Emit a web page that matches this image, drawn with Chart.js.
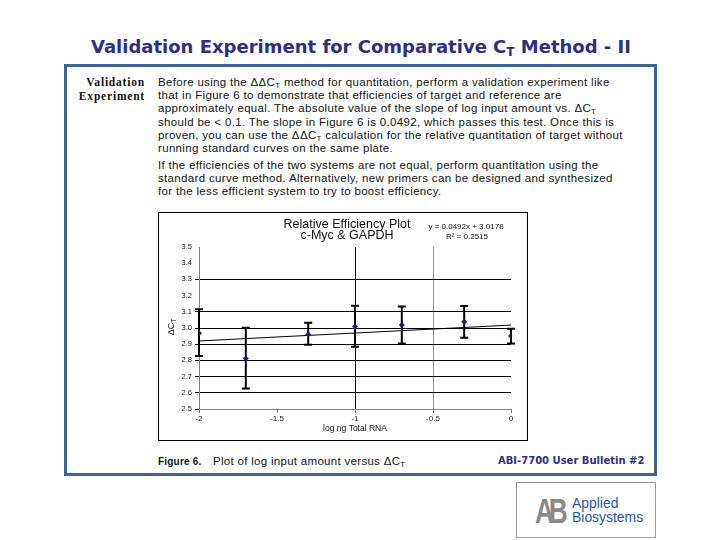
<!DOCTYPE html>
<html>
<head>
<meta charset="utf-8">
<script src="https://cdn.jsdelivr.net/npm/chart.js@4.4.1/dist/chart.umd.min.js"></script>
<style>
  html, body { margin: 0; padding: 0; background: #fff; }
  #page { position: relative; width: 720px; height: 540px; overflow: hidden; background: #fff; }
  .abs { position: absolute; white-space: nowrap; }
  #title { left: 0; width: 722px; top: 36px; text-align: center; font: bold 18px "DejaVu Sans"; color: #2e2f82; line-height: 22px; }
  #title sub { font-size: 12px; vertical-align: -3px; line-height: 0; }
  #frame { left: 64px; top: 64px; width: 587px; height: 406px; border: 3px solid #40648c; }
  #side { left: 55px; width: 90px; top: 75px; text-align: right; font: bold 11.5px "Liberation Serif"; line-height: 14px; color: #111; letter-spacing: 0.8px; }
  .body { left: 158px; font: 11.5px "Liberation Sans"; letter-spacing: 0.33px; line-height: 13.2px; color: #151515; }
  .body sub { font-size: 8px; vertical-align: -2px; line-height: 0; }
  #p1 { top: 76px; }
  #p2 { top: 159px; }
  #chartBox { left: 158px; top: 212px; width: 368px; height: 227px; border: 1px solid #000; }
  #cap { left: 158px; top: 454px; font: 11.5px "Liberation Sans"; letter-spacing: 0.3px; color: #151515; line-height: 14px; }
  #cap b { font-size: 10px; letter-spacing: 0.2px; margin-right: 8px; }
  #cap sub { font-size: 8px; vertical-align: -2px; line-height: 0; }
  #bulletin { left: 498px; top: 454px; font: bold 10px "DejaVu Sans"; color: #2e2f82; line-height: 14px; }
  #logo { left: 516px; top: 482px; width: 138px; height: 54px; border: 1px solid #9a9a9a; }
  #ab { left: 18px; top: 11px; font: bold 35px "Liberation Sans"; color: #8a8a8a; letter-spacing: -7px; line-height: 34px; transform: scaleX(0.75); transform-origin: left center; }
  .ablue { left: 55px; font: 14.5px "Liberation Sans"; color: #2458a8; transform: scaleX(0.96); transform-origin: left center; line-height: 16px; }
  #applied { top: 11.5px; }
  #bio { top: 25.5px; }
</style>
</head>
<body>
<div id="page">
  <div id="title" class="abs">Validation Experiment for Comparative C<sub>T</sub> Method - II</div>
  <div id="frame" class="abs"></div>
  <div id="side" class="abs">Validation<br>Experiment</div>
  <div id="p1" class="abs body">Before using the ΔΔC<sub>T</sub> method for quantitation, perform a validation experiment like<br>that in Figure 6 to demonstrate that efficiencies of target and reference are<br>approximately equal. The absolute value of the slope of log input amount vs. ΔC<sub>T</sub><br>should be &lt; 0.1. The slope in Figure 6 is 0.0492, which passes this test. Once this is<br>proven, you can use the ΔΔC<sub>T</sub> calculation for the relative quantitation of target without<br>running standard curves on the same plate.</div>
  <div id="p2" class="abs body">If the efficiencies of the two systems are not equal, perform quantitation using the<br>standard curve method. Alternatively, new primers can be designed and synthesized<br>for the less efficient system to try to boost efficiency.</div>
  <div id="chartBox" class="abs"><canvas id="c" width="368" height="227"></canvas></div>
  <div id="cap" class="abs"><b>Figure 6.</b> Plot of log input amount versus ΔC<sub>T</sub></div>
  <div id="bulletin" class="abs">ABI-7700 User Bulletin #2</div>
  <div id="logo" class="abs">
    <div id="ab" class="abs">AB</div>
    <div id="applied" class="abs ablue">Applied</div>
    <div id="bio" class="abs ablue">Biosystems</div>
  </div>
</div>
<script>
// ---- data ----
const logInput   = [-2, -1.7, -1.3, -1, -0.7, -0.3, 0];
const deltaCt    = [2.967, 2.811, 2.961, 3.010, 3.019, 3.039, 2.951];
const errorHigh  = [3.115, 3.002, 3.033, 3.138, 3.132, 3.136, 2.996];
const errorLow   = [2.827, 2.627, 2.897, 2.885, 2.905, 2.940, 2.905];
const trendX     = [-2, 0];
const trendY     = [2.920, 3.018];
const chartTitle = ['Relative Efficiency Plot', 'c-Myc & GAPDH'];
const equation   = ['y = 0.0492x + 3.0178', 'R² = 0.2515'];
const xAxisTitle = 'log ng Total RNA';
const yAxisTitle = ['ΔC', 'T'];

// ---- styling ----
const FONT = '"Liberation Sans", Arial, sans-serif';
const hiddenYGrid = [3.5, 3.4, 3.2];
const near = (a, b) => Math.abs(a - b) < 1e-6;

const errorBars = {
  id: 'errorBars',
  beforeDatasetsDraw(chart) {
    const { ctx, scales: { x, y } } = chart;
    ctx.save();
    ctx.strokeStyle = '#000';
    ctx.lineWidth = 2;
    logInput.forEach((xv, i) => {
      const px = x.getPixelForValue(xv);
      const top = y.getPixelForValue(errorHigh[i]);
      const bot = y.getPixelForValue(errorLow[i]);
      ctx.beginPath();
      ctx.moveTo(px, top); ctx.lineTo(px, bot);
      ctx.moveTo(px - 4, top); ctx.lineTo(px + 4, top);
      ctx.moveTo(px - 4, bot); ctx.lineTo(px + 4, bot);
      ctx.stroke();
    });
    ctx.restore();
  }
};

const annotations = {
  id: 'annotations',
  afterDraw(chart) {
    const ctx = chart.ctx;
    ctx.save();
    ctx.fillStyle = '#111';
    ctx.textAlign = 'center';
    ctx.textBaseline = 'middle';
    ctx.font = '12.5px ' + FONT;
    ctx.fillText(chartTitle[0], 188, 12);
    ctx.fillText(chartTitle[1], 188, 22.5);
    ctx.font = '8px ' + FONT;
    ctx.fillText(equation[0], 307, 14);
    ctx.fillText(equation[1], 308, 24);
    // rotated y-axis title with subscript
    ctx.translate(13, 114);
    ctx.rotate(-Math.PI / 2);
    ctx.font = '9px ' + FONT;
    const w1 = ctx.measureText(yAxisTitle[0]).width;
    ctx.font = '6.5px ' + FONT;
    const w2 = ctx.measureText(yAxisTitle[1]).width;
    const start = -(w1 + w2) / 2;
    ctx.textAlign = 'left';
    ctx.font = '9px ' + FONT;
    ctx.fillText(yAxisTitle[0], start, 0);
    ctx.font = '6.5px ' + FONT;
    ctx.fillText(yAxisTitle[1], start + w1, 2.5);
    ctx.restore();
  }
};

new Chart(document.getElementById('c'), {
  type: 'scatter',
  data: {
    datasets: [
      {
        label: 'ΔCT',
        data: logInput.map((x, i) => ({ x, y: deltaCt[i] })),
        pointStyle: 'rectRot',
        pointRadius: 3,
        pointBackgroundColor: '#1c1c72',
        pointBorderColor: '#1c1c72',
        pointBorderWidth: 0,
        showLine: false
      },
      {
        label: 'Trend',
        data: trendX.map((x, i) => ({ x, y: trendY[i] })),
        showLine: true,
        borderColor: '#000',
        borderWidth: 1,
        pointRadius: 0,
        fill: false
      }
    ]
  },
  options: {
    responsive: false,
    animation: false,
    devicePixelRatio: 1,
    layout: { padding: { top: 34, right: 16, left: 0, bottom: 0 } },
    plugins: { legend: { display: false }, tooltip: { enabled: false }, title: { display: false } },
    scales: {
      x: {
        type: 'linear',
        min: -2, max: 0,
        afterFit(s) { s.height = 31; },
        ticks: { stepSize: 0.5, padding: 1, color: '#222', font: { family: FONT, size: 8 },
                 callback: v => String(Math.round(v * 10) / 10) },
        grid: {
          tickLength: 4,
          color: c => c.tick && near(c.tick.value, -1) ? '#000' : (c.tick && near(c.tick.value, -0.5) ? '#8c8c8c' : 'rgba(0,0,0,0)'),
          tickColor: '#808080'
        },
        border: { display: true, color: '#808080', width: 1 },
        title: { display: true, text: xAxisTitle, color: '#111', font: { family: FONT, size: 8.5 }, padding: { top: 0, bottom: 6.6 } }
      },
      y: {
        type: 'linear',
        min: 2.5, max: 3.5,
        afterFit(s) { s.width = 40; },
        ticks: { stepSize: 0.1, padding: 3, color: '#222', font: { family: FONT, size: 7.5 },
                 callback: v => v.toFixed(1) },
        grid: {
          tickLength: 4,
          color: c => c.tick && hiddenYGrid.some(v => near(v, c.tick.value)) ? 'rgba(0,0,0,0)' : '#000',
          tickColor: c => c.tick && hiddenYGrid.some(v => near(v, c.tick.value)) ? 'rgba(0,0,0,0)' : '#000'
        },
        border: { display: true, color: '#808080', width: 1 }
      }
    }
  },
  plugins: [errorBars, annotations]
});
</script>
</body>
</html>
